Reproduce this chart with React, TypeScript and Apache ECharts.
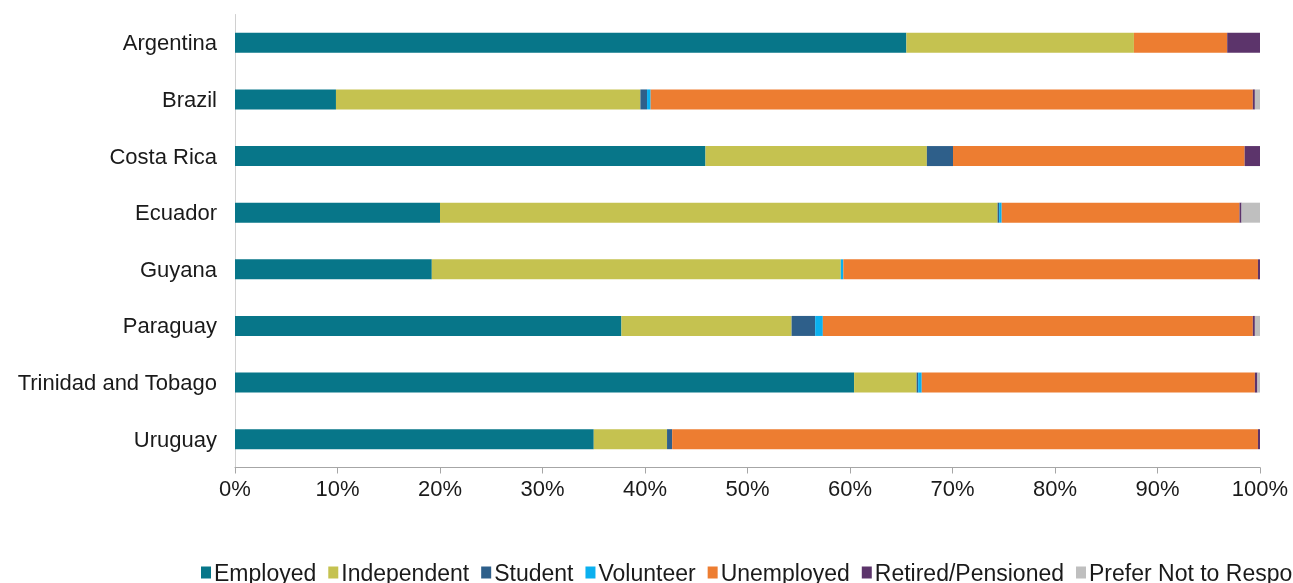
import React, { useEffect, useRef } from "react";
import * as echarts from "echarts";

const countries = ["Argentina", "Brazil", "Costa Rica", "Ecuador", "Guyana", "Paraguay", "Trinidad and Tobago", "Uruguay"];
const seriesNames = ["Employed", "Independent", "Student", "Volunteer", "Unemployed", "Retired/Pensioned", "Prefer Not to Respond"];
const employed = [65.5, 9.85, 45.9, 20.0, 19.2, 37.7, 60.4, 35.0];
const independent = [22.2, 29.7, 21.6, 54.4, 39.9, 16.6, 6.1, 7.15];
const student = [0, 0.65, 2.55, 0.15, 0, 2.3, 0.15, 0.5];
const volunteer = [0, 0.35, 0, 0.25, 0.25, 0.75, 0.35, 0];
const unemployed = [9.1, 58.75, 28.45, 23.2, 40.45, 41.95, 32.5, 57.15];
const retired = [3.2, 0.2, 1.5, 0.2, 0.2, 0.2, 0.25, 0.2];
const preferNot = [0, 0.5, 0, 1.8, 0, 0.5, 0.25, 0];
const tickValues = [0, 10, 20, 30, 40, 50, 60, 70, 80, 90, 100];

const colors = ["#077689", "#C5C250", "#2E5F8A", "#0BB0EF", "#ED7D31", "#5C346B", "#BFBFBF"];
const allData = [employed, independent, student, volunteer, unemployed, retired, preferNot];

export default function App() {
  const ref = useRef<HTMLDivElement>(null);
  useEffect(() => {
    if (!ref.current) return;
    const chart = echarts.init(ref.current, undefined, { renderer: "svg" });
    const font = "Liberation Sans, Arial, sans-serif";
    chart.setOption({
      animation: false,
      color: colors,
      textStyle: { fontFamily: font },
      grid: { left: 235, right: 33, top: 14.5, bottom: 115.5, containLabel: false },
      legend: {
        left: 196,
        top: 556,
        width: 2000,
        itemWidth: 10,
        itemHeight: 12,
        itemGap: 12,
        icon: "rect",
        textStyle: { fontFamily: font, fontSize: 23, color: "#1a1a1a", padding: [0, 0, 0, -2] },
        data: seriesNames,
      },
      xAxis: {
        type: "value",
        min: tickValues[0],
        max: tickValues[tickValues.length - 1],
        interval: 10,
        splitLine: { show: false },
        axisLine: { show: true, lineStyle: { color: "#a6a6a6", width: 1 } },
        axisTick: { show: true, length: 6, lineStyle: { color: "#a6a6a6" } },
        axisLabel: { formatter: "{value}%", fontFamily: font, fontSize: 22, color: "#1a1a1a", margin: 10 },
      },
      yAxis: {
        type: "category",
        data: countries,
        inverse: true,
        axisLine: { show: true, lineStyle: { color: "#d0d0d0", width: 1 } },
        axisTick: { show: false },
        axisLabel: { fontFamily: font, fontSize: 22, color: "#1a1a1a", margin: 18 },
      },
      series: seriesNames.map((name, i) => ({
        name,
        type: "bar",
        stack: "total",
        barWidth: 20,
        data: allData[i],
        itemStyle: { color: colors[i] },
      })),
    });
    return () => chart.dispose();
  }, []);
  return <div ref={ref} style={{ position: "fixed", left: 0, top: 0, width: 1293, height: 583 }} />;
}
